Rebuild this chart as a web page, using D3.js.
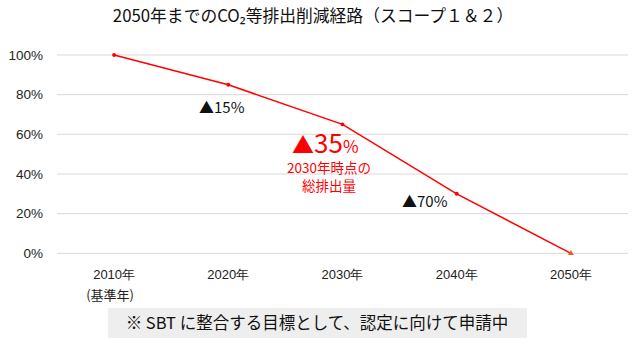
<!DOCTYPE html>
<html><head><meta charset="utf-8">
<script src="https://cdn.jsdelivr.net/npm/d3@7/dist/d3.min.js"></script>
<style>
body{margin:0;background:#fff;}
svg{display:block;font-family:"Noto Sans CJK JP","Noto Sans",sans-serif;}
</style></head>
<body><svg id="c" width="639" height="339"></svg>
<script>
const title = "2050年までのCO₂等排出削減経路（スコープ１＆２）";
const categories = ["2010年","2020年","2030年","2040年","2050年"];
const subLabels = ["(基準年)","","","",""];
const values = [1.00, 0.85, 0.65, 0.30, 0.00];
const yTicks = [0, 0.2, 0.4, 0.6, 0.8, 1.0];
const reductions = ["▲15%", "▲35%", "▲70%"];
const note = "※ SBT に整合する目標として、認定に向けて申請中";
const note2030 = ["2030年時点の", "総排出量"];

const svg = d3.select("#c");
const x = d3.scaleBand().domain(categories).range([57, 628]).padding(0);
const cx = d => x(d) + x.bandwidth()/2;
const y = d3.scaleLinear().domain([0, 1]).range([253.3, 55]);

// title
svg.append("text").attr("x", 313).attr("y", 22).attr("text-anchor","middle")
  .attr("font-size", 16.8).attr("fill","#111").text(title);

// gridlines
svg.append("g").selectAll("line").data(yTicks).join("line")
  .attr("x1", 57).attr("x2", 628).attr("y1", d=>y(d)).attr("y2", d=>y(d))
  .attr("stroke", "#d9d9d9").attr("stroke-width", 1);

// y axis labels
const yAxis = d3.axisLeft(y).tickValues(yTicks).tickFormat(d3.format(".0%")).tickSize(0).tickPadding(0);
const ga = svg.append("g").attr("transform","translate(43,0)").call(yAxis);
ga.select(".domain").remove();
ga.selectAll("text").attr("font-size", 13.5).attr("fill","#222").attr("font-family","inherit");

// x axis labels
const xAxis = d3.axisBottom(x).tickSize(0).tickPadding(0);
const gx = svg.append("g").attr("transform","translate(0,270)").call(xAxis);
gx.select(".domain").remove();
gx.selectAll("text").attr("font-size", 13).attr("fill","#222").attr("font-family","inherit");
svg.append("g").selectAll("text").data(categories.map((c,i)=>({c, s: subLabels[i]})).filter(d=>d.s))
  .join("text").attr("x", d=>cx(d.c)-4).attr("y", 300).attr("text-anchor","middle")
  .attr("font-size", 13).attr("fill","#222").text(d=>d.s);

// line
const pts = categories.map((c,i)=>({c, v: values[i]}));
svg.append("path").datum(pts)
  .attr("d", d3.line().x(d=>cx(d.c)).y(d=>y(d.v)))
  .attr("fill","none").attr("stroke","#ff0000").attr("stroke-width",1.5);
svg.append("g").selectAll("path").data(pts).join("path")
  .attr("transform", d=>`translate(${cx(d.c)},${y(d.v)})`)
  .attr("d", (d,i)=> i===pts.length-1 ? d3.symbol(d3.symbolTriangle, 14)() : d3.symbol(d3.symbolCircle, 12)())
  .attr("fill", (d,i)=> i===pts.length-1 ? "#f05a1e" : "#ff0000");

// annotations
svg.append("text").attr("x", 199).attr("y", 113).attr("font-size", 15).attr("fill","#111")
  .text(reductions[0]);
svg.append("text").attr("x", 402).attr("y", 207).attr("font-size", 15).attr("fill","#111")
  .text(reductions[2]);
const t35 = svg.append("text").attr("x", 292).attr("y", 152.5).attr("fill","#ff0000");
t35.append("tspan").attr("font-size", 22).text("▲");
t35.append("tspan").attr("font-size", 26).text(reductions[1].slice(1,-1));
t35.append("tspan").attr("font-size", 17).text("%");
svg.append("g").selectAll("text").data(note2030).join("text")
  .attr("x", 329).attr("y", (d,i)=>172.5 + i*18.5).attr("text-anchor","middle")
  .attr("font-size", 13.5).attr("fill","#ff0000").text(d=>d);

// note box
svg.append("rect").attr("x", 108).attr("y", 308).attr("width", 419).attr("height", 30).attr("fill","#eeeeee");
svg.append("text").attr("x", 317).attr("y", 329).attr("text-anchor","middle")
  .attr("font-size", 16.5).attr("fill","#111").text(note);
</script></body></html>
